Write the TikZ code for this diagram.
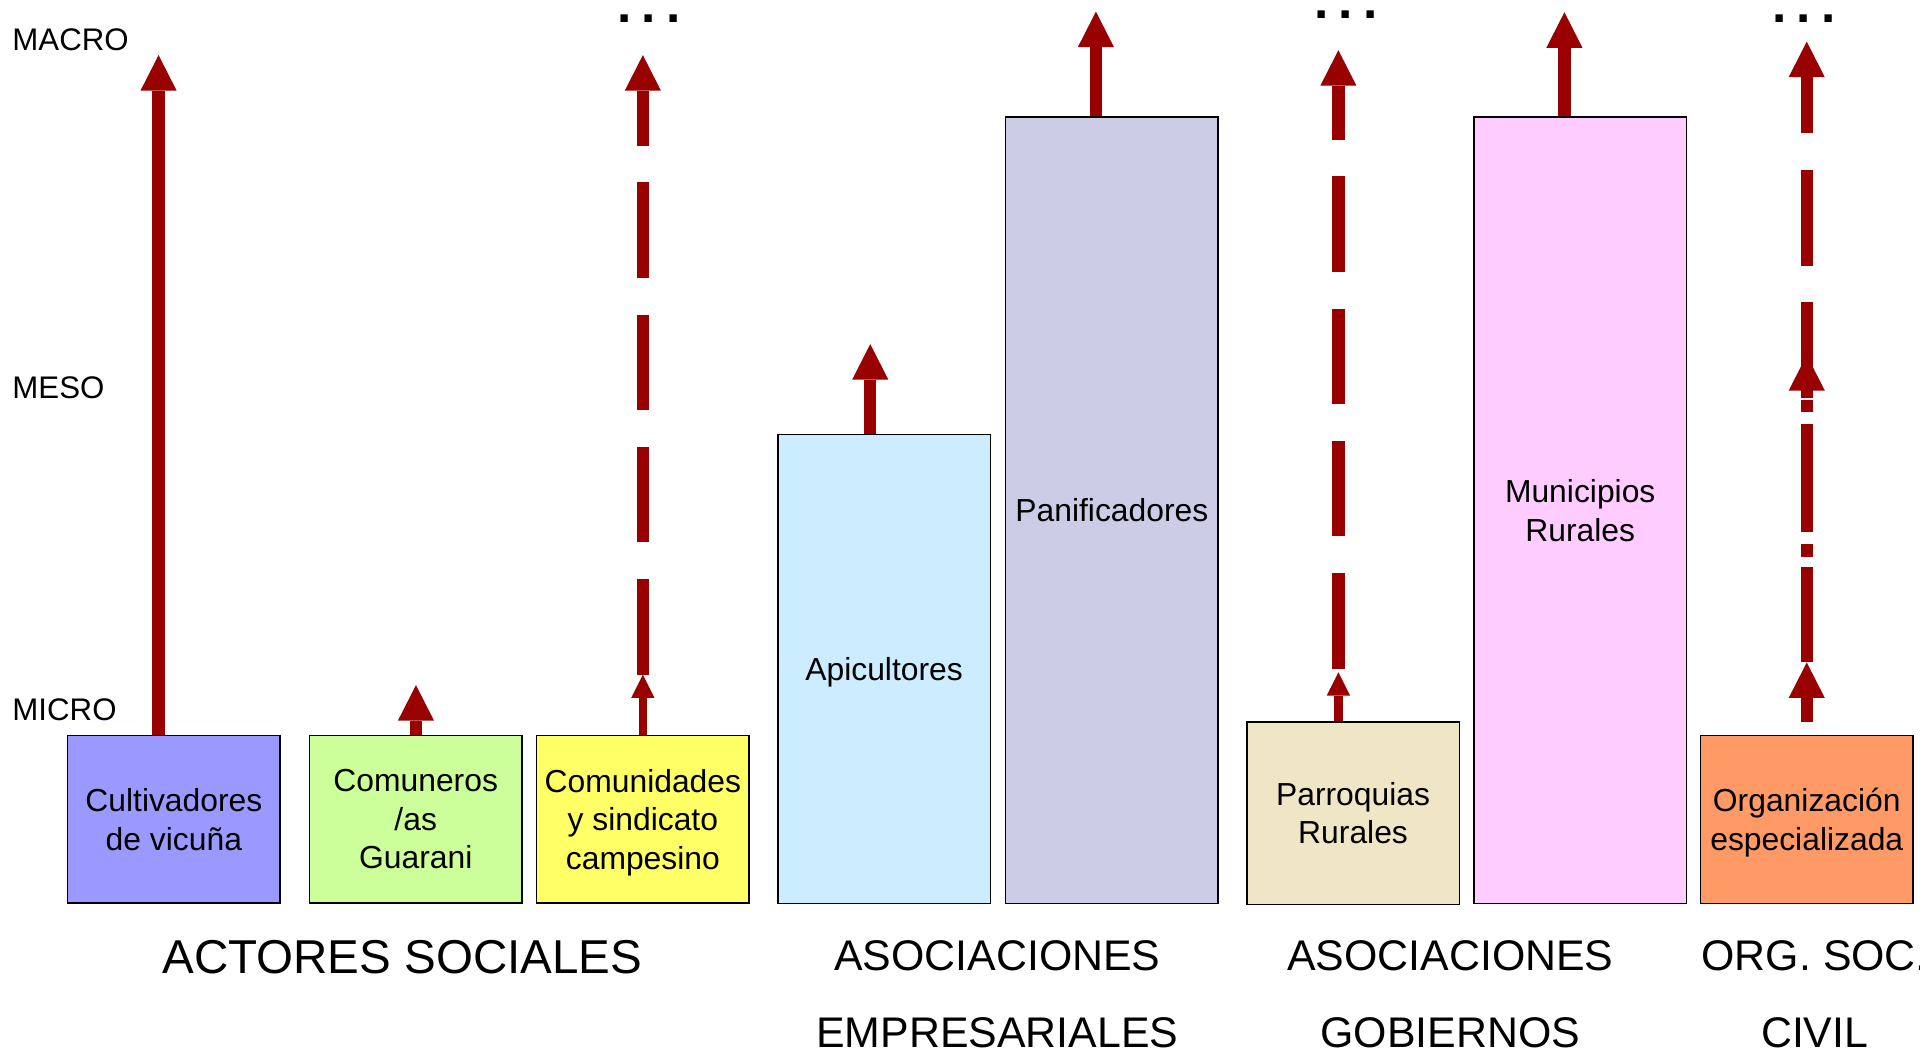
\documentclass[tikz,border=0pt]{standalone}
\usepackage{fontspec}
\setmainfont{Liberation Sans}
\usetikzlibrary{arrows.meta}
\definecolor{arrowred}{HTML}{990000}
\definecolor{cA}{HTML}{9999FF}
\definecolor{cB}{HTML}{CCFF99}
\definecolor{cC}{HTML}{FFFF66}
\definecolor{cD}{HTML}{CCECFF}
\definecolor{cE}{HTML}{CCCCE6}
\definecolor{cF}{HTML}{EEE6C4}
\definecolor{cG}{HTML}{FFCCFF}
\definecolor{cH}{HTML}{FF9966}
\begin{document}
\begin{tikzpicture}[x=1pt,y=-1pt,
  box/.style={draw=black, line width=1.3pt, minimum width=173.5pt, inner sep=0pt, align=center, text depth=0pt, font=\fontsize{26}{31.5}\selectfont},
  bigarrow/.style={draw=arrowred, line width=10pt, -{Triangle[length=29pt,width=29.5pt,line width=0pt]}},
  smallarrow/.style={draw=arrowred, line width=7pt, -{Triangle[length=19pt,width=19pt,line width=0pt]}},
  longdash/.style={dash pattern=on 78pt off 30pt},
  dashdotline/.style={dash pattern=on 88pt off 10pt on 10pt off 10pt, dash phase=11.5pt},
  level/.style={anchor=west, inner sep=0pt, font=\fontsize{25.5}{30}\selectfont},
  grouplabel/.style={inner sep=0pt, align=center, font=\fontsize{35}{62.5}\selectfont},
  moredots/.style={anchor=base, inner sep=0pt, font=\bfseries\fontsize{42}{42}\selectfont}
]
\useasboundingbox (0,0) rectangle (1568,859);

% level labels
\node[level] (macro) at (10,32.5) {MACRO};
\node[level] (meso) at (10,316.5) {MESO};
\node[level] (micro) at (10,580) {MICRO};

% boxes
\node[box, fill=cA, minimum height=137pt] (b1) at (142,669) {Cultivadores\\de vicuña};
\node[box, fill=cB, minimum height=137pt] (b2) at (339.5,669) {Comuneros\\/as\\Guarani};
\node[box, fill=cC, minimum height=137pt] (b3) at (525,669) {Comunidades\\y sindicato\\campesino};
\node[box, fill=cD, minimum height=383pt] (b4) at (722,546.5) {Apicultores};
\node[box, fill=cE, minimum height=642.5pt] (b5) at (908,416.75) {Panificadores};
\node[box, fill=cF, minimum height=149pt] (b6) at (1105,664) {Parroquias\\Rurales};
\node[box, fill=cG, minimum height=642.5pt] (b7) at (1290.5,416.75) {Municipios\\Rurales};
\node[box, fill=cH, minimum height=137.5pt] (b8) at (1475.5,669.25) {Organización\\especializada};

% arrow end points
\coordinate (t1) at (129.5,45);
\coordinate (t2) at (339.7,559.5);
\coordinate (m3) at (525,551);
\coordinate (t3) at (525,45);
\coordinate (t4) at (710.7,281);
\coordinate (t5) at (895,9.5);
\coordinate (m6) at (1093,549);
\coordinate (s6) at (1093,546);
\coordinate (t6) at (1093,41);
\coordinate (t7) at (1277.6,10);
\coordinate (m8) at (1475.5,541);
\coordinate (k8) at (1475.5,290);
\coordinate (t8) at (1475.5,34);

% arrows
\draw[bigarrow] (t1 |- b1.north) -- (t1);
\draw[bigarrow] (t2 |- b2.north) -- (t2);
\draw[smallarrow] (m3 |- b3.north) -- (m3);
\draw[bigarrow, longdash] (m3) -- (t3);
\draw[bigarrow] (t4 |- b4.north) -- (t4);
\draw[bigarrow] (t5 |- b5.north) -- (t5);
\draw[smallarrow] (m6 |- b6.north) -- (m6);
\draw[bigarrow, longdash] (s6) -- (t6);
\draw[bigarrow] (t7 |- b7.north) -- (t7);
\draw[bigarrow, shorten <=10pt] (m8 |- b8.north) -- (m8);
\draw[bigarrow, longdash] (m8) -- (t8);
\draw[bigarrow, dashdotline] (m8) -- (k8);

% continuation dots
\node[moredots] (d3) at (530,18.5) {.\hspace{8.3pt}.\hspace{8.3pt}.};
\node[moredots] (d6) at (1099,15) {.\hspace{8.3pt}.\hspace{8.3pt}.};
\node[moredots] (d8) at (1473,18.5) {.\hspace{8.3pt}.\hspace{8.3pt}.};

% group labels
\node[inner sep=0pt, font=\fontsize{38.8}{46}\selectfont] (g1) at (328.5,781.5) {ACTORES SOCIALES};
\node[grouplabel] (g2) at (814.5,811.75) {ASOCIACIONES\\EMPRESARIALES};
\node[grouplabel] (g3) at (1184.5,811.75) {ASOCIACIONES\\GOBIERNOS};
\node[grouplabel] (g4) at (1482,811.75) {ORG. SOC.\\CIVIL};
\end{tikzpicture}
\end{document}
